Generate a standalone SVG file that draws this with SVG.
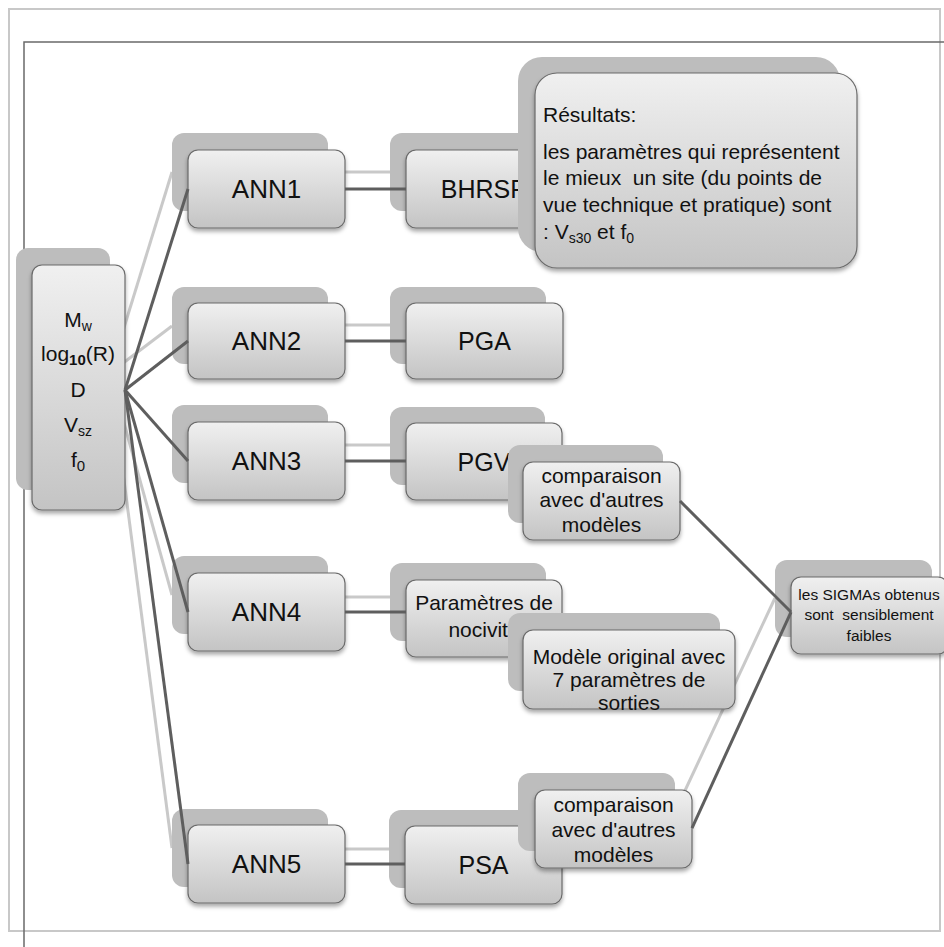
<svg xmlns="http://www.w3.org/2000/svg" width="944" height="947" viewBox="0 0 944 947">
<defs>
<linearGradient id="g" x1="0" y1="0" x2="0" y2="1">
<stop offset="0" stop-color="#f0f0f0"/>
<stop offset="1" stop-color="#c4c4c4"/>
</linearGradient>
<filter id="ds" x="-10%" y="-10%" width="120%" height="130%">
<feDropShadow dx="0" dy="3" stdDeviation="2" flood-color="#000" flood-opacity="0.35"/>
</filter>
<style>
.bk{fill:#bdbdbd}
.mn{fill:url(#g);stroke:#6a6a6a;stroke-width:1.2;filter:url(#ds)}
.t{font-family:"Liberation Sans",Arial,sans-serif;fill:#111;text-anchor:middle}
.tl{font-family:"Liberation Sans",Arial,sans-serif;fill:#111}
.lt{stroke:#c9c9c9;stroke-width:3;fill:none}
.dk{stroke:#5e5e5e;stroke-width:3;fill:none}
</style>
</defs>
<rect width="944" height="947" fill="#fff"/>
<rect x="9" y="9" width="931" height="922" fill="none" stroke="#c8c8c8" stroke-width="2"/>
<path d="M24 947 V42 H944" fill="none" stroke="#6a6a6a" stroke-width="1.5"/>

<g id="connectors-light">
<line class="lt" x1="110" y1="373" x2="172" y2="172"/>
<line class="lt" x1="110" y1="373" x2="172" y2="326"/>
<line class="lt" x1="110" y1="373" x2="172" y2="595"/>
<line class="lt" x1="110" y1="373" x2="172" y2="848"/>
<line class="lt" x1="328" y1="172" x2="390" y2="172"/>
<line class="lt" x1="328" y1="325" x2="390" y2="325"/>
<line class="lt" x1="328" y1="445" x2="390" y2="445"/>
<line class="lt" x1="328" y1="597" x2="390" y2="597"/>
<line class="lt" x1="328" y1="849" x2="390" y2="849"/>
<line class="lt" x1="675" y1="812" x2="775" y2="598"/>
</g>

<g id="n-input">
<rect class="bk" x="16" y="248" width="94" height="242" rx="12"/>
<rect class="mn" x="32" y="265" width="93" height="245" rx="10"/>
<text class="t" x="78" y="327" font-size="21">M<tspan font-size="14" dy="4">w</tspan></text>
<text class="t" x="78" y="361" font-size="21">log<tspan font-size="15" font-weight="bold" dy="4">10</tspan><tspan dy="-4">(R)</tspan></text>
<text class="t" x="78" y="397" font-size="21">D</text>
<text class="t" x="78" y="432" font-size="21">V<tspan font-size="14" dy="4">sz</tspan></text>
<text class="t" x="78" y="467" font-size="21">f<tspan font-size="15" dy="4">0</tspan></text>
</g>

<g id="n-ann1">
<rect class="bk" x="172" y="133" width="156" height="78" rx="12"/>
<rect class="mn" x="188" y="150" width="157" height="78" rx="10"/>
<text class="t" x="266.5" y="198" font-size="26">ANN1</text>
</g>
<g id="n-bhrsr">
<rect class="bk" x="390" y="133" width="156" height="78" rx="12"/>
<rect class="mn" x="406" y="150" width="157" height="78" rx="10"/>
<text class="t" x="484.5" y="198" font-size="25">BHRSR</text>
</g>
<g id="n-results">
<rect class="bk" x="518" y="57" width="322" height="195" rx="24"/>
<rect class="mn" x="535" y="73" width="322" height="195" rx="22"/>
<text class="tl" x="543" y="122" font-size="21">Résultats:</text>
<text class="tl" x="543" y="159" font-size="21">les paramètres qui représentent</text>
<text class="tl" x="543" y="185" font-size="21" xml:space="preserve">le mieux  un site (du points de</text>
<text class="tl" x="543" y="212" font-size="21">vue technique et pratique) sont</text>
<text class="tl" x="543" y="239" font-size="21">: V<tspan font-size="14" dy="4">s30</tspan><tspan dy="-4"> et f</tspan><tspan font-size="14" dy="4">0</tspan></text>
</g>

<g id="n-ann2">
<rect class="bk" x="172" y="287" width="156" height="77" rx="12"/>
<rect class="mn" x="188" y="303" width="157" height="76" rx="10"/>
<text class="t" x="266.5" y="350" font-size="26">ANN2</text>
</g>
<g id="n-pga">
<rect class="bk" x="390" y="287" width="156" height="77" rx="12"/>
<rect class="mn" x="406" y="303" width="157" height="76" rx="10"/>
<text class="t" x="484.5" y="350" font-size="25">PGA</text>
</g>

<g id="n-ann3">
<rect class="bk" x="172" y="405" width="156" height="78" rx="12"/>
<rect class="mn" x="188" y="422" width="157" height="78" rx="10"/>
<text class="t" x="266.5" y="470" font-size="26">ANN3</text>
</g>
<g id="n-pgv">
<rect class="bk" x="390" y="407" width="155" height="78" rx="12"/>
<rect class="mn" x="406" y="423" width="156" height="77" rx="10"/>
<text class="t" x="484" y="471" font-size="25">PGV</text>
</g>
<g id="n-comp1">
<rect class="bk" x="508" y="445" width="155" height="78" rx="12"/>
<rect class="mn" x="523" y="462" width="157" height="78" rx="10"/>
<text class="t" x="601.5" y="483" font-size="21">comparaison</text>
<text class="t" x="601.5" y="507" font-size="21">avec d'autres</text>
<text class="t" x="601.5" y="532" font-size="21">modèles</text>
</g>

<g id="n-ann4">
<rect class="bk" x="172" y="556" width="156" height="78" rx="12"/>
<rect class="mn" x="188" y="573" width="157" height="78" rx="10"/>
<text class="t" x="266.5" y="621" font-size="26">ANN4</text>
</g>
<g id="n-nocivite">
<rect class="bk" x="390" y="563" width="156" height="78" rx="12"/>
<rect class="mn" x="406" y="580" width="156" height="77" rx="10"/>
<text class="t" x="484" y="610" font-size="21">Paramètres de</text>
<text class="t" x="484" y="637" font-size="21">nocivité</text>
</g>
<g id="n-modele">
<rect class="bk" x="508" y="613" width="212" height="78" rx="12"/>
<rect class="mn" x="523" y="630" width="212" height="79" rx="10"/>
<text class="t" x="629" y="664" font-size="21">Modèle original avec</text>
<text class="t" x="629" y="687" font-size="21">7 paramètres de</text>
<text class="t" x="629" y="710" font-size="21">sorties</text>
</g>

<g id="n-ann5">
<rect class="bk" x="172" y="809" width="156" height="78" rx="12"/>
<rect class="mn" x="188" y="825" width="157" height="78" rx="10"/>
<text class="t" x="266.5" y="873" font-size="26">ANN5</text>
</g>
<g id="n-psa">
<rect class="bk" x="389" y="810" width="157" height="78" rx="12"/>
<rect class="mn" x="405" y="826" width="157" height="78" rx="10"/>
<text class="t" x="483.5" y="874" font-size="25">PSA</text>
</g>
<g id="n-comp2">
<rect class="bk" x="518" y="773" width="157" height="78" rx="12"/>
<rect class="mn" x="535" y="790" width="157" height="78" rx="10"/>
<text class="t" x="613.5" y="812" font-size="21">comparaison</text>
<text class="t" x="613.5" y="837" font-size="21">avec d'autres</text>
<text class="t" x="613.5" y="862" font-size="21">modèles</text>
</g>

<g id="n-sigma">
<rect class="bk" x="775" y="560" width="157" height="77" rx="12"/>
<rect class="mn" x="791" y="577" width="157" height="77" rx="10"/>
<text class="t" x="869" y="600" font-size="15.5">les SIGMAs obtenus</text>
<text class="t" x="869" y="620" font-size="15.5" xml:space="preserve">sont  sensiblement</text>
<text class="t" x="869" y="641" font-size="15.5">faibles</text>
</g>

<g id="connectors-dark">
<line class="dk" x1="125" y1="390" x2="188" y2="189"/>
<line class="dk" x1="125" y1="390" x2="188" y2="341"/>
<line class="dk" x1="125" y1="390" x2="188" y2="461"/>
<line class="dk" x1="125" y1="390" x2="188" y2="612"/>
<line class="dk" x1="125" y1="390" x2="188" y2="864"/>
<line class="dk" x1="345" y1="189" x2="406" y2="189"/>
<line class="dk" x1="345" y1="341" x2="406" y2="341"/>
<line class="dk" x1="345" y1="461" x2="406" y2="461"/>
<line class="dk" x1="345" y1="612" x2="406" y2="612"/>
<line class="dk" x1="345" y1="864" x2="405" y2="864"/>
<line class="dk" x1="680" y1="501" x2="791" y2="612"/>
<line class="dk" x1="692" y1="828" x2="791" y2="612"/>
</g>
</svg>
